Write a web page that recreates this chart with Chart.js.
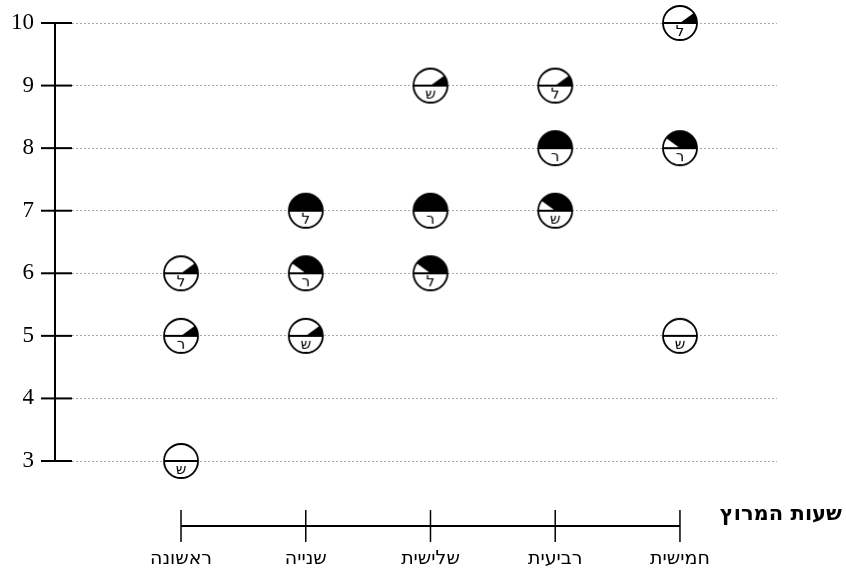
<!DOCTYPE html>
<html>
<head>
<meta charset="utf-8">
<script src="https://cdn.jsdelivr.net/npm/chart.js@4/dist/chart.umd.min.js"></script>
<style>
  body { margin: 0; background: #fff; }
  canvas { display: block; }
</style>
</head>
<body>
<canvas id="chart" width="846" height="577"></canvas>
<script>
// race stages (x axis) and hour ticks (y axis)
const races = ['ראשונה', 'שנייה', 'שלישית', 'רביעית', 'חמישית'];
const hourTicks = [3, 4, 5, 6, 7, 8, 9, 10];
const axisTitle = 'שעות המרוץ';

// one series per runner letter: hours per stage and how much of the upper half is black
const shinHours = [3, 5, 9, 7, 5];
const shinFill = [0, 0.2, 0.2, 0.8, 0];
const reshHours = [5, 6, 7, 8, 8];
const reshFill = [0.2, 0.8, 1, 1, 0.8];
const lamedHours = [6, 7, 6, 9, 10];
const lamedFill = [0.2, 1, 0.8, 0.2, 0.2];

// builds the little circle marker with the black wedge and the letter
function makeMarker(fill, letter) {
    const r = 17;
    const size = 2 * r + 4;
    const c = document.createElement('canvas');
    c.width = size;
    c.height = size;
    const g = c.getContext('2d');
    const cx = size / 2, cy = size / 2;
    g.beginPath();
    g.arc(cx, cy, r, 0, Math.PI * 2);
    g.fillStyle = '#fff';
    g.fill();
    if (fill > 0) {
        g.beginPath();
        g.moveTo(cx, cy);
        g.arc(cx, cy, r, 0, -Math.PI * fill, true);
        g.closePath();
        g.fillStyle = '#000';
        g.fill();
    }
    g.lineWidth = 1.8;
    g.strokeStyle = '#000';
    g.beginPath();
    g.moveTo(cx - r, cy);
    g.lineTo(cx + r, cy);
    g.stroke();
    g.beginPath();
    g.arc(cx, cy, r, 0, Math.PI * 2);
    g.stroke();
    g.fillStyle = '#000';
    g.font = '15px "DejaVu Sans"';
    g.textAlign = 'center';
    g.textBaseline = 'middle';
    g.fillText(letter, cx, cy + 9);
    return c;
}

function series(hours, fills, letter) {
    return {
        label: letter,
        data: hours.map((h, i) => ({ x: i, y: h })),
        pointStyle: fills.map(f => makeMarker(f, letter)),
        showLine: false
    };
}

const axesPlugin = {
    id: 'axes',
    afterDraw(chart) {
        const ctx = chart.ctx;
        const x = chart.scales.x;
        const y = chart.scales.y;
        ctx.save();
        ctx.strokeStyle = '#000';
        ctx.lineWidth = 2;

        // y axis line and crossing ticks
        const ax = 55;
        ctx.beginPath();
        ctx.moveTo(ax, y.getPixelForValue(hourTicks[hourTicks.length - 1]));
        ctx.lineTo(ax, y.getPixelForValue(hourTicks[0]));
        ctx.stroke();
        hourTicks.forEach(v => {
            const py = y.getPixelForValue(v);
            ctx.beginPath();
            ctx.moveTo(41, py);
            ctx.lineTo(72, py);
            ctx.stroke();
        });

        // x axis line below the plot
        const ly = 526;
        ctx.beginPath();
        ctx.moveTo(x.getPixelForValue(0), ly);
        ctx.lineTo(x.getPixelForValue(races.length - 1), ly);
        ctx.stroke();
        ctx.lineWidth = 1.5;
        races.forEach((r, i) => {
            const px = x.getPixelForValue(i);
            ctx.beginPath();
            ctx.moveTo(px, ly - 16);
            ctx.lineTo(px, ly + 16);
            ctx.stroke();
        });

        ctx.fillStyle = '#000';
        ctx.font = 'bold 21px "DejaVu Sans"';
        ctx.textAlign = 'right';
        ctx.textBaseline = 'middle';
        ctx.fillText(axisTitle, 842, 515);
        ctx.restore();
    }
};

new Chart(document.getElementById('chart'), {
    type: 'scatter',
    data: {
        datasets: [
            series(shinHours, shinFill, 'ש'),
            series(reshHours, reshFill, 'ר'),
            series(lamedHours, lamedFill, 'ל')
        ]
    },
    options: {
        responsive: false,
        animation: false,
        events: [],
        layout: { padding: { top: 23, right: 69, left: 0, bottom: 0 } },
        plugins: { legend: { display: false }, tooltip: { enabled: false } },
        elements: { point: { radius: 19 } },
        clip: false,
        scales: {
            x: {
                type: 'linear',
                min: -0.874,
                max: 4.778,
                afterBuildTicks: s => { s.ticks = races.map((r, i) => ({ value: i })); },
                afterFit: s => { s.height = 116; s.paddingLeft = 0; s.paddingRight = 0; },
                grid: { display: false, drawTicks: false },
                border: { display: false },
                ticks: {
                    padding: 87,
                    color: '#000',
                    font: { family: 'DejaVu Sans', size: 19 },
                    callback: v => races[v]
                }
            },
            y: {
                min: 3,
                max: 10,
                afterBuildTicks: s => { s.ticks = hourTicks.map(v => ({ value: v })); },
                afterFit: s => { s.width = 72; s.paddingTop = 0; s.paddingBottom = 0; },
                grid: { color: '#aaa', lineWidth: 1, drawTicks: false },
                border: { display: false, dash: [2, 2] },
                ticks: {
                    padding: 38,
                    color: '#000',
                    font: { family: 'Liberation Serif', size: 23 }
                }
            }
        }
    },
    plugins: [axesPlugin]
});
</script>
</body>
</html>
